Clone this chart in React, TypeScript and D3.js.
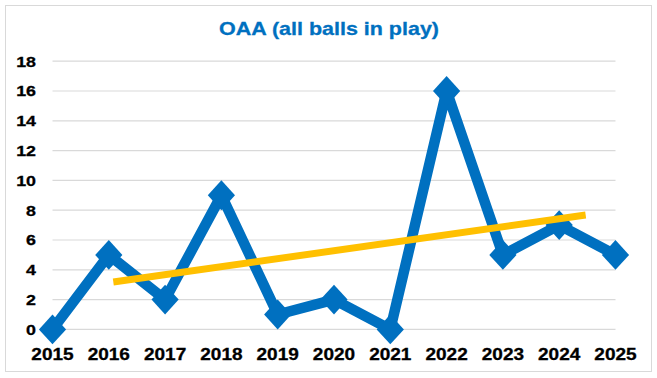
import React from "react";
import * as d3 from "d3";

const years = [2015, 2016, 2017, 2018, 2019, 2020, 2021, 2022, 2023, 2024, 2025];
const oaa = [0, 5, 2, 9, 1, 2, 0, 16, 5, 7, 5];
const yTicks = [0, 2, 4, 6, 8, 10, 12, 14, 16, 18];
const trendX = [2016.08, 2024.47];
const trendY = [3.18, 7.68];
const title = "OAA (all balls in play)";

const W = 657;
const H = 378;
const BLUE = "#0070C0";
const GOLD = "#FFC000";

const tallDiamond = {
  draw(context: any, size: number) {
    const hw = Math.sqrt(size / 2);
    const hh = hw * 1.1;
    context.moveTo(0, -hh);
    context.lineTo(hw, 0);
    context.lineTo(0, hh);
    context.lineTo(-hw, 0);
    context.closePath();
  },
};

export default function App() {
  const x = d3.scaleLinear().domain([2015, 2025]).range([52.5, 615.5]);
  const y = d3.scaleLinear().domain([0, 18]).range([329.4, 61.2]);
  const line = d3
    .line<number>()
    .x((_, i) => x(years[i]))
    .y((d) => y(d));
  const trend = d3
    .line<number>()
    .x((_, i) => x(trendX[i]))
    .y((d) => y(d));
  const diamond = d3.symbol().type(tallDiamond as any).size(370)();

  return (
    <svg
      width={W}
      height={H}
      style={{ position: "absolute", left: 0, top: 0, fontFamily: "Liberation Sans, Arial, sans-serif" }}
    >
      <rect x={0} y={0} width={W} height={H} fill="#fff" />
      <rect x={5.5} y={5.5} width={646} height={366} fill="#fff" stroke="#d9d9d9" strokeWidth={1} />
      <text
        x={329}
        y={35}
        textAnchor="middle"
        fontSize={19}
        fontWeight="bold"
        fill={BLUE}
        stroke={BLUE}
        strokeWidth={0.3}
        textLength={220}
        lengthAdjust="spacingAndGlyphs"
      >
        {title}
      </text>
      {yTicks.map((t) => (
        <g key={t}>
          <line x1={x(2015)} x2={x(2025)} y1={y(t)} y2={y(t)} stroke="#d9d9d9" strokeWidth={1.2} />
          <text
            x={36}
            y={y(t) + 5.5}
            textAnchor="end"
            fontSize={15.5}
            fontWeight="bold"
            fill="#000"
            stroke="#000"
            strokeWidth={0.3}
            transform={`translate(36,0) scale(1.15,1) translate(-36,0)`}
          >
            {t}
          </text>
        </g>
      ))}
      {years.map((yr) => (
        <text
          key={yr}
          x={0}
          y={0}
          textAnchor="middle"
          fontSize={17}
          fontWeight="bold"
          fill="#000"
          stroke="#000"
          strokeWidth={0.3}
          transform={`translate(${x(yr)},359.5) scale(1.12,1)`}
        >
          {yr}
        </text>
      ))}
      <path d={line(oaa) || ""} fill="none" stroke={BLUE} strokeWidth={10.5} strokeLinejoin="round" />
      {oaa.map((v, i) => (
        <path key={i} d={diamond || ""} transform={`translate(${x(years[i])},${y(v)})`} fill={BLUE} />
      ))}
      <path d={trend(trendY) || ""} fill="none" stroke={GOLD} strokeWidth={7} />
    </svg>
  );
}
